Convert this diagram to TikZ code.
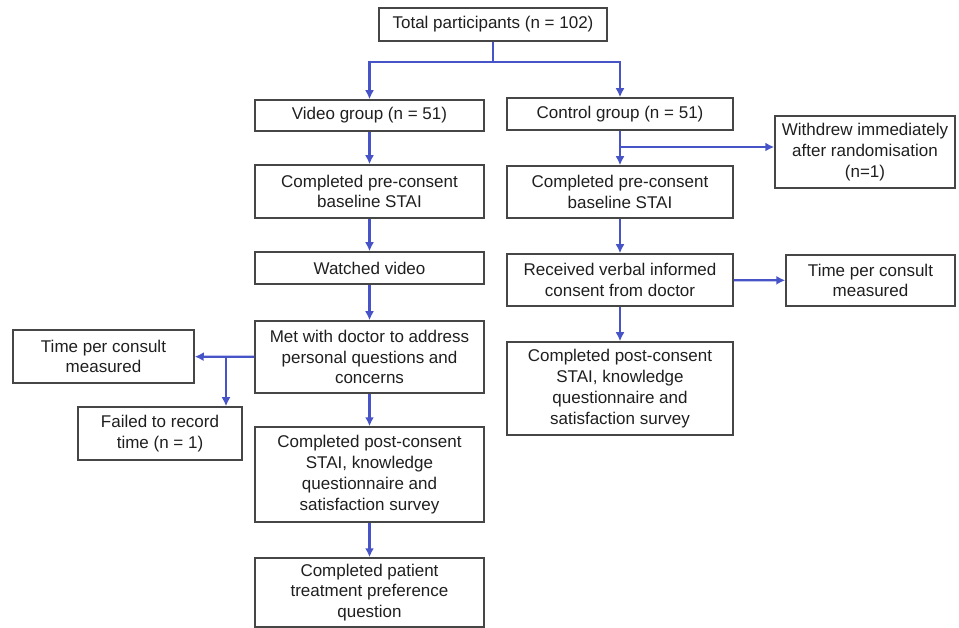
\documentclass[tikz,border=0pt]{standalone}
\usepackage{fontspec}
\setmainfont{Liberation Sans}
\usetikzlibrary{arrows.meta}

\definecolor{flowblue}{RGB}{70,84,200}
\definecolor{boxline}{RGB}{70,70,70}

\begin{document}
\begin{tikzpicture}[x=1pt, y=-1pt,
		box/.style={draw=boxline, line width=1.5pt, align=center, inner sep=0pt,
			font=\fontsize{17}{20.8}\selectfont, text=black!88},
		link/.style={draw=flowblue, line width=2.2pt},
		arrow/.style={link, -{Latex[length=9pt,width=9pt]}}]
		\useasboundingbox (0,0) rectangle (959,628);
		% left column
		\node[box, minimum width=228, minimum height=33] (total) at (493,24.5) {Total participants (n = 102)};
		\node[box, minimum width=229, minimum height=31] (video) at (369.5,115.5) {Video group (n = 51)};
		\node[box, minimum width=229, minimum height=53] (preL) at (369.5,191.5) {Completed pre-consent\\baseline STAI};
		\node[box, minimum width=229, minimum height=32] (watched) at (369.5,268) {Watched video};
		\node[box, minimum width=229, minimum height=72] (met) at (369.5,357) {Met with doctor to address\\personal questions and\\concerns};
		\node[box, minimum width=229, minimum height=95] (postL) at (369.5,474.5) {Completed post-consent\\STAI, knowledge\\questionnaire and\\satisfaction survey};
		\node[box, minimum width=229, minimum height=69] (pref) at (369.5,592.5) {Completed patient\\treatment preference\\question};
		\node[box, minimum width=181, minimum height=53] (timeL) at (103.5,356.5) {Time per consult\\measured};
		\node[box, minimum width=164, minimum height=53] (failed) at (160,433.5) {Failed to record\\time (n = 1)};
		% right column
		\node[box, minimum width=226, minimum height=32] (control) at (620,114) {Control group (n = 51)};
		\node[box, minimum width=226, minimum height=52] (preR) at (620,192) {Completed pre-consent\\baseline STAI};
		\node[box, minimum width=226, minimum height=52] (received) at (620,280) {Received verbal informed\\consent from doctor};
		\node[box, minimum width=226, minimum height=93] (postR) at (620,388.5) {Completed post-consent\\STAI, knowledge\\questionnaire and\\satisfaction survey};
		\node[box, minimum width=180, minimum height=72] (withdrew) at (865,152) {Withdrew immediately\\after randomisation\\(n=1)};
		\node[box, minimum width=169, minimum height=51] (timeR) at (870.5,280.5) {Time per consult\\measured};
		% split points
		\coordinate (split) at (493,62);
		\coordinate (wsplit) at (620,147);
		\coordinate (tsplit) at (226,357);
		% connectors
		\draw[link] (total) -- (split);
		\draw[arrow] (split) -| (video);
		\draw[arrow] (split) -| (control);
		\draw[arrow] (video) -- (preL);
		\draw[arrow] (preL) -- (watched);
		\draw[arrow] (watched) -- (met);
		\draw[arrow] (met) -- (postL);
		\draw[arrow] (postL) -- (pref);
		\draw[arrow] (met) -- (timeL);
		\draw[arrow] (tsplit) -- (tsplit |- failed.north);
		\draw[arrow] (control) -- (preR);
		\draw[arrow] (wsplit) -- (wsplit -| withdrew.west);
		\draw[arrow] (preR) -- (received);
		\draw[arrow] (received) -- (timeR);
		\draw[arrow] (received) -- (postR);
	\end{tikzpicture}
\end{document}
